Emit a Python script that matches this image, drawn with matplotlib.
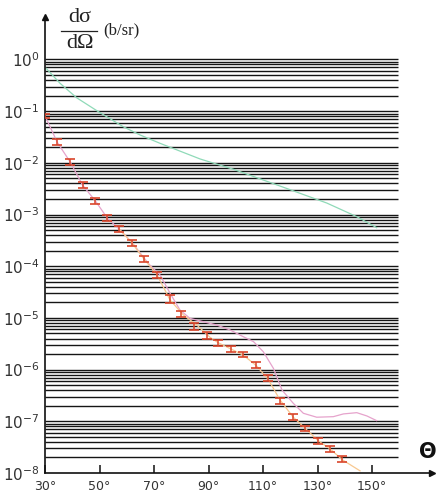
import numpy as np
import matplotlib
matplotlib.use("Agg")
import matplotlib.pyplot as plt

# ---- data ----
angles = [30.0, 34.5, 39.2, 43.8, 48.5, 52.9, 57.3, 62.0, 66.3, 71.2, 75.9, 79.9, 84.8,
          89.3, 93.6, 98.3, 102.8, 107.5, 111.9, 116.2, 121.1, 125.5, 130.3, 134.7, 139.1]
xsec = [8.1e-2, 2.5e-2, 1.05e-2, 3.7e-3, 1.83e-3, 8.5e-4, 5.2e-4, 2.8e-4, 1.38e-4, 6.8e-5,
        2.33e-5, 1.19e-5, 6.8e-6, 4.6e-6, 3.3e-6, 2.5e-6, 1.94e-6, 1.23e-6, 6.8e-7, 2.5e-7,
        1.2e-7, 7.3e-8, 4.2e-8, 2.9e-8, 1.84e-8]
err_dex = [0.04, 0.055, 0.055, 0.058, 0.055, 0.063, 0.058, 0.063, 0.063, 0.052,
           0.07, 0.062, 0.064, 0.064, 0.054, 0.058, 0.052, 0.062, 0.06, 0.054,
           0.054, 0.052, 0.058, 0.054, 0.058]

green_ang = [30.4, 35.5, 41.6, 49.6, 58.7, 64.9, 72.2, 86.9, 99.1, 117.5, 133.4, 144.4, 151.7]
green_val = [0.676, 0.347, 0.182, 0.0977, 0.0501, 0.0346, 0.0239, 0.0119, 7.52e-3,
             3.37e-3, 1.67e-3, 9.1e-4, 5.57e-4]

pink_ang = [30.0, 34.5, 39.2, 43.8, 48.5, 52.9, 57.3, 62.0, 66.3, 68.5, 72.2, 75.9, 79.5,
            83.2, 88.1, 93.0, 97.9, 103.0, 106.5, 110.1, 113.8, 117.0, 121.1, 124.8,
            129.7, 135.8, 139.5, 144.4, 148.1, 151.7]
pink_val = [8.1e-2, 2.5e-2, 1.05e-2, 3.7e-3, 1.83e-3, 8.5e-4, 5.2e-4, 2.85e-4, 1.45e-4,
            1.05e-4, 6.8e-5, 3.0e-5, 1.43e-5, 9.8e-6, 8.45e-6, 7.3e-6, 5.85e-6,
            4.27e-6, 3.48e-6, 2.22e-6, 1.06e-6, 4.0e-7, 2.23e-7, 1.43e-7, 1.20e-7, 1.23e-7,
            1.39e-7, 1.47e-7, 1.27e-7, 1.03e-7]

orange_ang = [57.3, 62.0, 66.3, 71.0, 75.9, 80.8, 85.7, 90.6, 93.6, 98.3, 102.8, 107.5,
              111.9, 116.2, 121.1, 125.5, 130.3, 134.7, 139.1, 145.6]
orange_val = [5.2e-4, 2.8e-4, 1.38e-4, 7.0e-5, 2.22e-5, 1.14e-5, 7.3e-6,
              4.2e-6, 3.3e-6, 2.5e-6, 1.9e-6, 1.2e-6, 6.5e-7, 2.6e-7, 1.2e-7, 7.3e-8,
              4.2e-8, 2.9e-8, 1.8e-8, 1.1e-8]

xtick_vals = [30, 50, 70, 90, 110, 130, 150]
xtick_labels = ["30°", "50°", "70°", "90°", "110°", "130°", "150°"]
ytick_exps = [-8, -7, -6, -5, -4, -3, -2, -1, 0]

# ---- figure ----
W, H = 437, 497
fig = plt.figure(figsize=(W / 100, H / 100), dpi=100)
ax = fig.add_axes([45 / W, 24 / H, (432 - 45) / W, 456 / H])
ax.set_yscale("log")
ax.set_xlim(30, 172.0)
ax.set_ylim(1e-8, 10 ** 0.822)

# horizontal grid lines at k*10^n
for n in range(-8, 1):
    for k in range(1, 10):
        v = k * 10.0 ** n
        if 1e-8 < v <= 1.0 + 1e-9:
            ax.hlines(v, 30, 159.5, color="#151515", lw=1.0, zorder=1)

# curves
ax.plot(green_ang, green_val, color="#8fdab8", lw=0.9, zorder=2)
ax.plot(pink_ang, pink_val, color="#e6a3cc", lw=0.9, zorder=2)
ax.plot(orange_ang, orange_val, color="#f8c890", lw=0.9, zorder=2)

# data points with error bars
y = np.array(xsec)
f = 10 ** np.array(err_dex)
yerr = np.vstack([y - y / f, y * f - y])
ax.errorbar(angles, xsec, yerr=yerr, fmt="none", ecolor="#d9452b", elinewidth=1.1,
            capsize=3.5, capthick=1.2, zorder=3)

# axes styling
for s in ["top", "right"]:
    ax.spines[s].set_visible(False)
for s in ["left", "bottom"]:
    ax.spines[s].set_color("#111111")
    ax.spines[s].set_linewidth(1.2)

ax.set_xticks(xtick_vals)
ax.set_xticklabels(xtick_labels, fontsize=9, color="#333333")
ax.tick_params(axis="x", direction="in", length=6, width=1.1, color="#111111", pad=5)
ax.minorticks_off()
ax.set_yticks([10.0 ** e for e in ytick_exps])
ax.set_yticklabels([r"$\mathregular{10^{%d}}$" % e for e in ytick_exps], fontsize=11,
                   color="#333333")
ax.tick_params(axis="y", length=0, pad=4)
ax.yaxis.set_minor_locator(matplotlib.ticker.NullLocator())

# arrow heads
ax.plot(0, 1, marker="^", color="#111111", ms=4, transform=ax.transAxes, clip_on=False)
ax.plot(1, 0, marker=">", color="#111111", ms=4, transform=ax.transAxes, clip_on=False)

# y-axis title as fraction
def fx(px):
    return px / W

def fy(py):
    return 1 - py / H

fig.text(fx(80), fy(17), "dσ", family="Liberation Serif", fontsize=16, ha="center",
         va="center", color="#222222")
fig.text(fx(80), fy(43), "dΩ", family="Liberation Serif", fontsize=16, ha="center",
         va="center", color="#222222")
fig.add_artist(plt.Line2D([fx(61), fx(97)], [fy(30.5), fy(30.5)], color="#222222", lw=0.9))
fig.text(fx(103), fy(30), "(b/sr)", family="Liberation Serif", fontsize=12, ha="left",
         va="center", color="#222222")

# x-axis title
fig.text(fx(419), fy(452), "Θ", fontsize=15, fontweight="bold", ha="left", va="center",
         color="#111111")

fig.savefig("out.png", dpi=100)
